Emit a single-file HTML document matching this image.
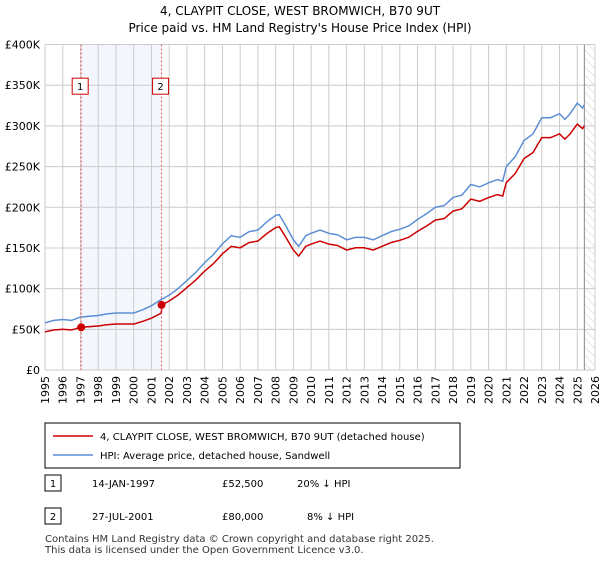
<!DOCTYPE html>
<html><head><meta charset="utf-8"><style>
body{margin:0;background:#fff;font-family:"DejaVu Sans","Liberation Sans",sans-serif;}
svg text{font-family:"DejaVu Sans","Liberation Sans",sans-serif;}
</style></head><body>
<svg width="600" height="560" id="c">
<defs><pattern id="hatch" width="6" height="6" patternUnits="userSpaceOnUse" patternTransform="rotate(-45)"><line x1="0" y1="0" x2="0" y2="6" stroke="#ccc" stroke-width="1"/></pattern></defs>
<text x="300" y="15" text-anchor="middle" font-size="12" fill="#000">4, CLAYPIT CLOSE, WEST BROMWICH, B70 9UT</text>
<text x="300" y="32" text-anchor="middle" font-size="12" fill="#000">Price paid vs. HM Land Registry's House Price Index (HPI)</text>
<g id="plot"></g>
<g>
<rect x="45" y="423" width="415" height="45" fill="#fff" stroke="#000" stroke-width="1"/>
<line x1="53" y1="436" x2="93" y2="436" stroke="#cc0000" stroke-width="1.5"/>
<text x="100" y="440" font-size="10">4, CLAYPIT CLOSE, WEST BROMWICH, B70 9UT (detached house)</text>
<line x1="53" y1="455" x2="93" y2="455" stroke="#5b8fd4" stroke-width="1.5"/>
<text x="100" y="459" font-size="10">HPI: Average price, detached house, Sandwell</text>
</g>
<g font-size="10">
<rect x="45" y="475" width="16" height="16" fill="#fff" stroke="#000"/><text x="53" y="487" text-anchor="middle">1</text>
<text x="92" y="487">14-JAN-1997</text><text x="222" y="487">£52,500</text><text x="297" y="487">20% ↓ HPI</text>
<rect x="45" y="508" width="16" height="16" fill="#fff" stroke="#000"/><text x="53" y="520" text-anchor="middle">2</text>
<text x="92" y="520">27-JUL-2001</text><text x="222" y="520">£80,000</text><text x="307" y="520">8% ↓ HPI</text>
</g>
<text x="45" y="542" font-size="10" fill="#333">Contains HM Land Registry data © Crown copyright and database right 2025.</text>
<text x="45" y="553" font-size="10" fill="#333">This data is licensed under the Open Government Licence v3.0.</text>
</svg>
<script>
const hpiT=[1995,1995.5,1996,1996.5,1997,1997.5,1998,1998.5,1999,1999.5,2000,2000.5,2001,2001.5,2002,2002.5,2003,2003.5,2004,2004.5,2005,2005.5,2006,2006.5,2007,2007.5,2008,2008.2,2008.5,2009,2009.3,2009.7,2010,2010.5,2011,2011.5,2012,2012.5,2013,2013.5,2014,2014.5,2015,2015.5,2016,2016.5,2017,2017.5,2018,2018.5,2019,2019.5,2020,2020.5,2020.8,2021,2021.5,2022,2022.5,2023,2023.5,2024,2024.3,2024.6,2025,2025.3,2025.4];
const hpiV=[58,61,62,61,65,66,67,69,70,70,70,74,79,86,92,100,110,120,132,142,155,165,163,170,172,182,190,191,180,160,152,165,168,172,168,166,160,163,163,160,165,170,173,177,185,192,200,202,212,215,228,225,230,234,232,250,262,282,290,310,310,315,308,315,328,322,326];
const saleT=[1997.04,2001.57];
const saleV=[52.5,80];
const yTicks=[0,50,100,150,200,250,300,350,400];
const yLabels=["£0","£50K","£100K","£150K","£200K","£250K","£300K","£350K","£400K"];
const years=[];for(let y=1995;y<=2026;y++)years.push(y);
const X0=45,X1=595,Y0=370,Y1=44.5;
const xs=t=>X0+(t-1995)/31*(X1-X0);
const ys=v=>Y0-v/400*(Y0-Y1);
const NS="http://www.w3.org/2000/svg";
const g=document.getElementById('plot');
function mk(tag,a,parent){const e=document.createElementNS(NS,tag);for(const k in a)e.setAttribute(k,a[k]);(parent||g).appendChild(e);return e;}
function hpiAt(t){for(let i=1;i<hpiT.length;i++){if(t<=hpiT[i]){const f=(t-hpiT[i-1])/(hpiT[i]-hpiT[i-1]);return hpiV[i-1]+f*(hpiV[i]-hpiV[i-1]);}}return hpiV[hpiV.length-1];}
let e=mk('rect',{x:xs(saleT[0]),y:Y1,width:xs(saleT[1])-xs(saleT[0]),height:Y0-Y1,fill:'#eef2fc',opacity:0.7});

e=mk('rect',{x:xs(2025.4),y:Y1,width:X1-xs(2025.4),height:Y0-Y1,fill:'url(#hatch)'});

years.forEach(y=>{const l=mk('line',{x1:xs(y),x2:xs(y),y1:Y1,y2:Y0,stroke:'#ccc','stroke-width':1});

const t=mk('text',{x:0,y:0,'font-size':11,'text-anchor':'end',transform:`translate(${xs(y)+4},${Y0+6}) rotate(-90)`});t.textContent=y;
});
yTicks.forEach((v,i)=>{const l=mk('line',{x1:X0,x2:X1,y1:ys(v),y2:ys(v),stroke:'#ccc','stroke-width':1});

const t=mk('text',{x:X0-5,y:ys(v)+4,'font-size':11,'text-anchor':'end'});t.textContent=yLabels[i];
});
mk('line',{x1:xs(2025.4),x2:xs(2025.4),y1:Y1,y2:Y0,stroke:'#888','stroke-width':1});
// series
function path(fn){let d='';for(let t=1995;t<=2025.4;t+=0.05){d+=(d?'L':'M')+xs(t).toFixed(1)+','+ys(fn(t)).toFixed(1);}return d;}
e=mk('path',{d:path(hpiAt),fill:'none',stroke:'#5b8fd4','stroke-width':1.5});

function paid(t){let k=0;for(let i=0;i<saleT.length;i++)if(t>=saleT[i])k=i;return saleV[k]*hpiAt(t)/hpiAt(saleT[k]);}
e=mk('path',{d:path(paid),fill:'none',stroke:'#cc0000','stroke-width':1.5});

saleT.forEach((t,i)=>{const l=mk('line',{x1:xs(t),x2:xs(t),y1:Y1,y2:Y0,stroke:'#e55','stroke-width':1,'stroke-dasharray':'2,2'});

const c=mk('circle',{cx:xs(t),cy:ys(saleV[i]),r:4,fill:'#cc0000'});

const r=mk('rect',{x:xs(t)-9,y:ys(350)-7,width:16,height:16,fill:'#fff',stroke:'#cc0000'});

const tx=mk('text',{x:xs(t)-1,y:ys(350)+5,'font-size':10,'text-anchor':'middle'});tx.textContent=i+1;
});
</script>
</body></html>
